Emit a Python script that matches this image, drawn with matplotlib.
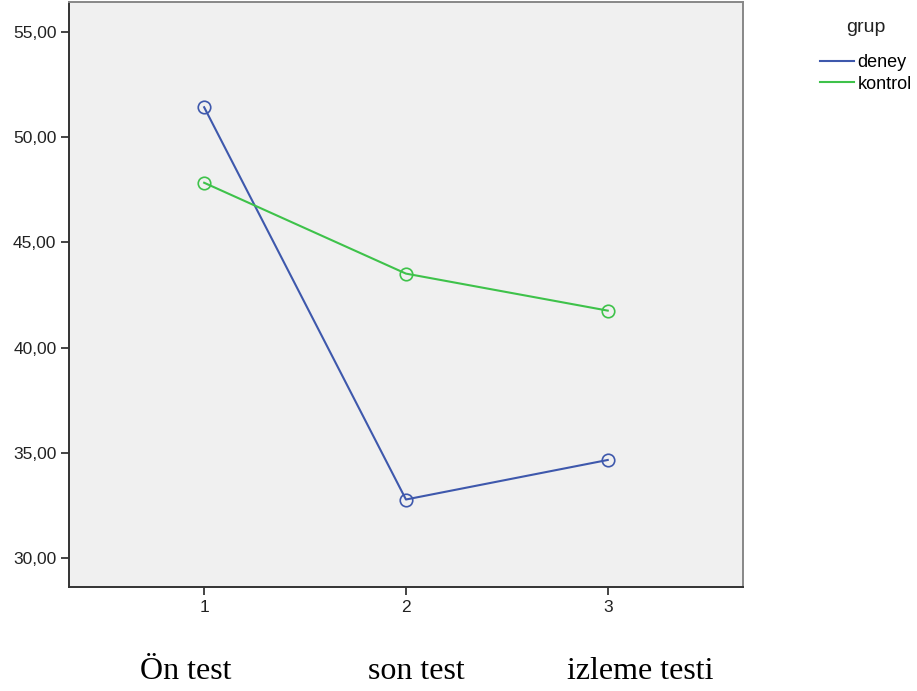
import matplotlib.pyplot as plt
from matplotlib.lines import Line2D

# data
zaman = [1, 2, 3]
deney = [51.43, 32.78, 34.66]
kontrol = [47.84, 43.52, 41.76]
kategoriler = ["Ön test", "son test", "izleme testi"]
y_ticks = [30, 35, 40, 45, 50, 55]

mavi = "#3e58ac"
yesil = "#3ec24a"

fig = plt.figure(figsize=(9.17, 6.91), dpi=100)
ax = fig.add_axes([0.0752, 0.1505, 0.7350, 0.8465])
ax.set_facecolor("#f0f0f0")

ax.plot(zaman, deney, color=mavi, lw=1.5, marker="o", ms=9,
        mfc="none", mec=mavi, mew=1.2)
ax.plot(zaman, kontrol, color=yesil, lw=1.5, marker="o", ms=9,
        mfc="none", mec=yesil, mew=1.2)

ax.set_xlim(0.33, 3.67)
ax.set_ylim(28.62, 56.43)
ax.set_xticks(zaman)
ax.set_xticklabels([str(z) for z in zaman])
ax.set_yticks(y_ticks)
ax.set_yticklabels([f"{v:.2f}".replace(".", ",") for v in y_ticks])

for s in ax.spines.values():
    s.set_color("#333333")
    s.set_linewidth(1.4)
ax.spines["top"].set_color("#888888")
ax.spines["right"].set_color("#888888")
ax.tick_params(direction="out", length=6, width=1.4, color="#444444",
               labelsize=12.5, labelcolor="#222222", pad=3)
for lab in ax.get_xticklabels() + ax.get_yticklabels():
    lab.set_fontfamily("Liberation Sans")

# category names under the axis (pixel offsets from the tick positions)
kaydir = [-18, 10, 32]
for z, k, dx in zip(zaman, kategoriler, kaydir):
    ax.annotate(k, xy=(z, 0), xycoords=("data", "axes fraction"),
                xytext=(dx, -84), textcoords="offset pixels",
                ha="center", va="center",
                fontsize=23, family="Liberation Serif", color="black")

# legend
fig.text(866 / 917, 1 - 27 / 691, "grup", ha="center", va="center",
         fontsize=14, family="Liberation Sans", color="#222222")
handles = [Line2D([], [], color=mavi, lw=1.5),
           Line2D([], [], color=yesil, lw=1.5)]
fig.legend(handles, ["deney", "kontrol"],
           loc="upper left", bbox_to_anchor=(804 / 917, 1 - 38 / 691),
           frameon=False, handlelength=1.85, handletextpad=0.22,
           labelspacing=0.25,
           prop={"family": "Liberation Sans", "size": 13})

fig.savefig("out.png", dpi=100)
